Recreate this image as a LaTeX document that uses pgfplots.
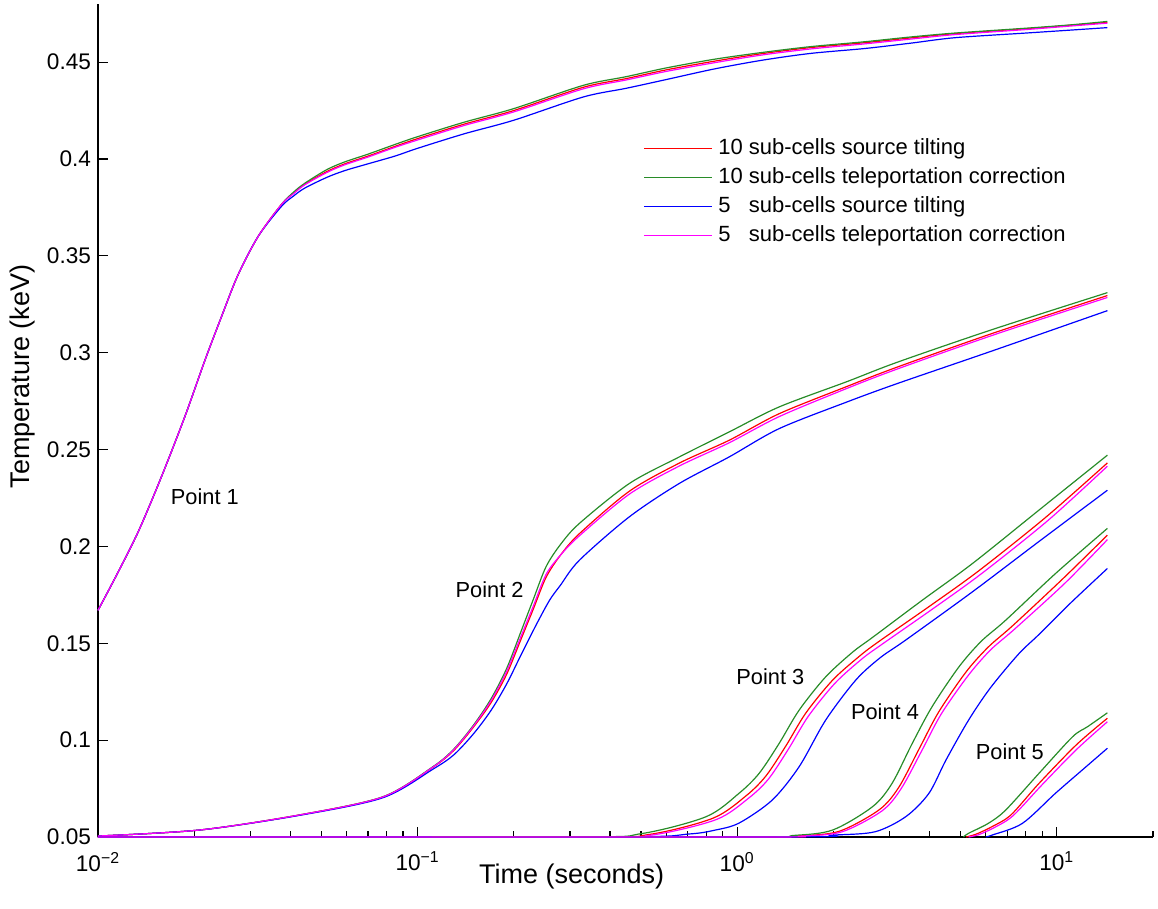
\documentclass[border=0pt]{standalone}
\usepackage{pgfplots}
\pgfplotsset{compat=1.18}
\usepackage{fontspec}
\setmainfont{Liberation Sans}
\definecolor{mgreen}{RGB}{40,140,40}
\definecolor{mmag}{RGB}{255,0,255}
\begin{document}
\begin{tikzpicture}
\begin{axis}[
  at={(0,0)}, anchor=south west,
  scale only axis, width=527.5pt, height=416.5pt,
  xmode=log, xmin=0.01, xmax=20, ymin=0.05, ymax=0.48,
  clip=false,
  axis x line=bottom, axis y line=left,
  axis line style={-, line width=0.6pt, black},
  xtick={0.01,0.1,1,10},
  xticklabels={10\textsuperscript{−2},10\textsuperscript{−1},10\textsuperscript{0},10\textsuperscript{1}},
  minor xtick={0.02,0.03,0.04,0.05,0.06,0.07,0.08,0.09,0.2,0.3,0.4,0.5,0.6,0.7,0.8,0.9,2,3,4,5,6,7,8,9,20},
  ytick={0.05,0.1,0.15,0.2,0.25,0.3,0.35,0.4,0.45},
  yticklabels={0.05,0.1,0.15,0.2,0.25,0.3,0.35,0.4,0.45},
  tick align=inside, major tick length=5pt, minor tick length=3pt,
  tick style={line width=0.6pt, black},
  ticklabel style={font=\fontsize{11.3}{13}\selectfont},
  xticklabel style={yshift=-4pt},
  xlabel={Time (seconds)}, ylabel={Temperature (keV)},
  label style={font=\fontsize{13.5}{16}\selectfont},
  xlabel style={at={(axis description cs:0.449,-0.048)}, anchor=center},
  ylabel style={at={(axis description cs:-0.072,0.553)}, anchor=center, rotate=0},
  legend style={draw=none, fill=none, at={(axis description cs:0.5166,0.840)}, anchor=north west,
    font=\fontsize{11}{13}\selectfont, row sep=3.5pt, inner sep=0pt,
    nodes={inner ysep=0pt, inner xsep=2.75pt, text height=8.5pt, text depth=2.5pt}},
  legend cell align=left,
  legend image code/.code={\draw[#1] (0pt,0pt) -- (34pt,0pt);},
  every axis plot/.append style={line width=0.6pt, smooth, tension=0.5},
]
% ---------- legend ----------
\addlegendimage{red, line width=0.7pt}
\addlegendentry{10 sub-cells source tilting}
\addlegendimage{mgreen, line width=0.7pt}
\addlegendentry{10 sub-cells teleportation correction}
\addlegendimage{blue, line width=0.7pt}
\addlegendentry{5\hphantom{0} sub-cells source tilting}
\addlegendimage{mmag, line width=0.7pt}
\addlegendentry{5\hphantom{0} sub-cells teleportation correction}
% ---------- Point 1 ----------
\addplot[red, forget plot] coordinates {(0.01,0.167)(0.0115,0.186)(0.0134,0.208)(0.0158,0.236)(0.0187,0.267)(0.0216,0.296)(0.0244,0.319)(0.0274,0.340)(0.0317,0.360)(0.0375,0.3765)(0.041,0.3825)(0.0444,0.387)(0.052,0.3935)(0.0592,0.3975)(0.07,0.4015)(0.085,0.4065)(0.1,0.4105)(0.14,0.418)(0.2,0.425)(0.33,0.437)(0.45,0.4415)(0.6,0.446)(0.85,0.4505)(1.2,0.4544)(1.7,0.4575)(2.5,0.460)(3.5,0.4625)(4.8,0.4647)(8,0.4672)(11,0.469)(14.4,0.4705)};
\addplot[mgreen, forget plot] coordinates {(0.01,0.167)(0.0115,0.186)(0.0134,0.208)(0.0158,0.236)(0.0187,0.267)(0.0216,0.296)(0.0244,0.319)(0.0274,0.340)(0.0317,0.360)(0.0375,0.3765)(0.041,0.383)(0.0444,0.3875)(0.052,0.3945)(0.0592,0.3985)(0.07,0.4025)(0.085,0.4075)(0.1,0.4115)(0.14,0.419)(0.2,0.426)(0.33,0.438)(0.45,0.4425)(0.6,0.447)(0.85,0.4515)(1.2,0.455)(1.7,0.458)(2.5,0.4605)(3.5,0.463)(4.8,0.465)(8,0.4675)(11,0.4692)(14.4,0.471)};
\addplot[blue, forget plot] coordinates {(0.01,0.167)(0.0115,0.186)(0.0134,0.208)(0.0158,0.236)(0.0187,0.267)(0.0216,0.296)(0.0244,0.319)(0.0274,0.340)(0.0317,0.360)(0.0375,0.3755)(0.041,0.381)(0.0444,0.385)(0.052,0.3905)(0.0592,0.394)(0.07,0.3975)(0.085,0.4015)(0.1,0.4055)(0.14,0.413)(0.2,0.420)(0.33,0.432)(0.45,0.4365)(0.6,0.441)(0.85,0.4465)(1.2,0.451)(1.7,0.4545)(2.5,0.457)(3.5,0.4598)(4.8,0.4626)(8,0.465)(11,0.4665)(14.4,0.4678)};
\addplot[mmag, forget plot] coordinates {(0.01,0.167)(0.0115,0.186)(0.0134,0.208)(0.0158,0.236)(0.0187,0.267)(0.0216,0.296)(0.0244,0.319)(0.0274,0.340)(0.0317,0.360)(0.0375,0.3765)(0.041,0.3822)(0.0444,0.3867)(0.052,0.393)(0.0592,0.397)(0.07,0.401)(0.085,0.406)(0.1,0.4098)(0.14,0.4173)(0.2,0.4243)(0.33,0.4362)(0.45,0.4408)(0.6,0.4452)(0.85,0.4497)(1.2,0.4537)(1.7,0.4568)(2.5,0.4594)(3.5,0.4619)(4.8,0.4642)(8,0.4668)(11,0.4686)(14.4,0.4701)};
% ---------- Point 2 ----------
\addplot[red, forget plot] coordinates {(0.01,0.0505)(0.0208,0.0536)(0.0428,0.0614)(0.078,0.0707)(0.1117,0.086)(0.13,0.0948)(0.15,0.107)(0.17,0.1195)(0.19,0.134)(0.21,0.1515)(0.23,0.1675)(0.2523,0.184)(0.28,0.1955)(0.321,0.2066)(0.46,0.2285)(0.659,0.243)(0.944,0.2548)(1.353,0.2685)(2.2,0.2825)(3.16,0.2925)(6.3,0.310)(14.4,0.3295)};
\addplot[mgreen, forget plot] coordinates {(0.01,0.0505)(0.0208,0.0536)(0.0428,0.0614)(0.078,0.0708)(0.1117,0.0863)(0.13,0.0955)(0.15,0.108)(0.17,0.1215)(0.19,0.137)(0.21,0.1555)(0.23,0.1725)(0.2523,0.1895)(0.28,0.201)(0.321,0.2119)(0.46,0.2325)(0.659,0.2462)(0.944,0.2591)(1.353,0.272)(2.2,0.285)(3.16,0.295)(6.3,0.312)(14.4,0.331)};
\addplot[blue, forget plot] coordinates {(0.01,0.0505)(0.0208,0.0536)(0.0428,0.0612)(0.078,0.0703)(0.1117,0.085)(0.13,0.0925)(0.15,0.1035)(0.17,0.1155)(0.19,0.129)(0.21,0.1435)(0.235,0.1595)(0.259,0.1723)(0.28,0.180)(0.321,0.1929)(0.46,0.2153)(0.659,0.2325)(0.944,0.2462)(1.353,0.2608)(2.2,0.2745)(3.16,0.284)(6.3,0.301)(14.4,0.3217)};
\addplot[mmag, forget plot] coordinates {(0.01,0.0505)(0.0208,0.0536)(0.0428,0.0614)(0.078,0.0707)(0.1117,0.0861)(0.13,0.0952)(0.15,0.1075)(0.17,0.1205)(0.19,0.1355)(0.21,0.153)(0.23,0.169)(0.2523,0.1855)(0.28,0.1955)(0.321,0.2055)(0.46,0.227)(0.659,0.2415)(0.944,0.2535)(1.353,0.267)(2.2,0.2815)(3.16,0.2915)(6.3,0.309)(14.4,0.3285)};
% ---------- Point 3 ----------
\addplot[red, forget plot] coordinates {(0.01,0.05)(0.32,0.05)(0.53,0.0513)(0.84,0.0597)(1.065,0.0712)(1.23,0.0815)(1.42,0.097)(1.64,0.114)(1.99,0.131)(2.42,0.1435)(2.78,0.151)(3.99,0.169)(5.71,0.1875)(9.23,0.2150)(14.4,0.2431)};
\addplot[mgreen, forget plot] coordinates {(0.01,0.05)(0.3,0.05)(0.5,0.0517)(0.8,0.0605)(1.014,0.0726)(1.172,0.0829)(1.353,0.0983)(1.563,0.1155)(1.893,0.1327)(2.3,0.1455)(2.65,0.153)(3.8,0.1723)(5.44,0.1911)(8.79,0.2187)(14.4,0.2471)};
\addplot[blue, forget plot] coordinates {(0.01,0.05)(0.4,0.05)(0.7,0.0515)(0.85,0.0535)(1.014,0.0572)(1.288,0.0691)(1.563,0.0863)(1.893,0.1104)(2.35,0.131)(2.8,0.1425)(3.37,0.1517)(5.44,0.1765)(8.79,0.2025)(14.4,0.229)};
\addplot[mmag, forget plot] coordinates {(0.01,0.05)(0.33,0.05)(0.54,0.051)(0.86,0.059)(1.085,0.070)(1.254,0.080)(1.448,0.0955)(1.672,0.1125)(2.026,0.1295)(2.46,0.142)(2.84,0.1495)(4.07,0.1675)(5.82,0.186)(9.4,0.2135)(14.4,0.2414)};
% ---------- Point 4 ----------
\addplot[red, forget plot] coordinates {(0.01,0.05)(1.05,0.05)(1.57,0.0506)(2.09,0.053)(2.78,0.064)(3.2,0.0755)(3.71,0.0955)(4.27,0.1145)(5.19,0.135)(6.1,0.148)(7.27,0.159)(10.4,0.183)(14.4,0.2058)};
\addplot[mgreen, forget plot] coordinates {(0.01,0.05)(1.0,0.05)(1.5,0.0508)(1.99,0.0536)(2.65,0.0656)(3.05,0.0776)(3.53,0.0983)(4.07,0.1172)(4.94,0.1378)(5.8,0.151)(6.92,0.1619)(9.91,0.186)(14.4,0.2093)};
\addplot[blue, forget plot] coordinates {(0.01,0.05)(1.3,0.05)(2.0,0.051)(2.7,0.0527)(3.37,0.0605)(3.98,0.0725)(4.5,0.0897)(5.3,0.1104)(6.2,0.127)(7.6,0.1445)(8.79,0.1545)(11,0.1705)(14.4,0.1886)};
\addplot[mmag, forget plot] coordinates {(0.01,0.05)(1.07,0.05)(1.6,0.0505)(2.13,0.0527)(2.84,0.0635)(3.26,0.075)(3.78,0.0945)(4.35,0.1135)(5.29,0.1335)(6.2,0.1465)(7.4,0.1575)(10.6,0.181)(14.4,0.2035)};
% ---------- Point 5 ----------
\addplot[red, forget plot] coordinates {(5.2,0.05)(5.6,0.0515)(6.3,0.0555)(7.2,0.0615)(8.79,0.0776)(11.5,0.0975)(14.4,0.1113)};
\addplot[mgreen, forget plot] coordinates {(5.1,0.05)(5.31,0.052)(6.1,0.057)(6.92,0.0639)(8.79,0.0828)(11.2,0.1017)(12.5,0.107)(14.4,0.1141)};
\addplot[blue, forget plot] coordinates {(6.0,0.05)(6.28,0.051)(7.8,0.057)(9.91,0.0726)(12,0.0845)(14.4,0.0958)};
\addplot[mmag, forget plot] coordinates {(5.3,0.05)(5.7,0.0512)(6.4,0.055)(7.3,0.061)(9.0,0.077)(11.5,0.095)(14.4,0.1095)};
% ---------- labels ----------
\begin{scope}[every node/.style={font=\fontsize{10.9}{13}\selectfont, inner sep=0pt}]
\node at (axis cs:0.0216,0.2254) {Point 1};
\node at (axis cs:0.168,0.1775) {Point 2};
\node at (axis cs:1.27,0.1326) {Point 3};
\node at (axis cs:2.90,0.1145) {Point 4};
\node at (axis cs:7.13,0.0939) {Point 5};
\end{scope}
\end{axis}
\pgfresetboundingbox
\path[use as bounding box] (-49pt,-36pt) rectangle (530pt,418.5pt);
\end{tikzpicture}
\end{document}
